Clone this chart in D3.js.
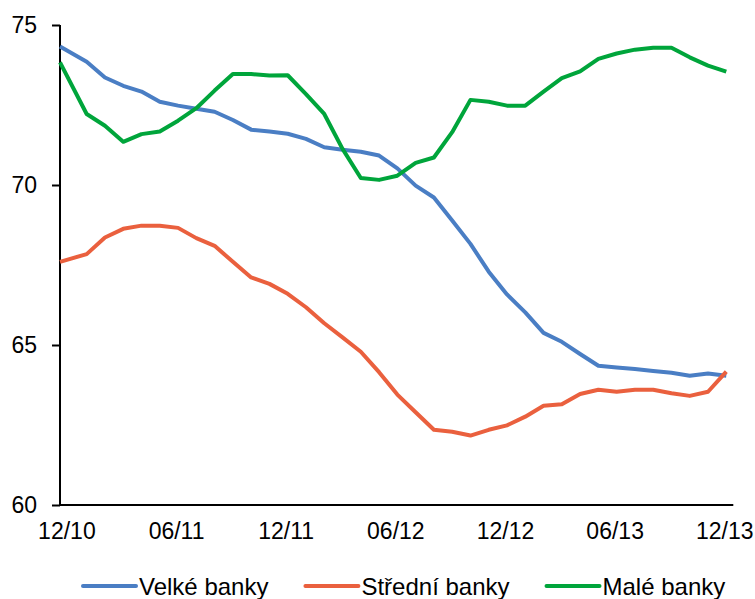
<!DOCTYPE html>
<html>
<head>
<meta charset="utf-8">
<script src="https://cdn.jsdelivr.net/npm/d3@7"></script>
<style>
  html, body { margin: 0; padding: 0; background: #fff; }
  svg { display: block; font-family: "Liberation Sans", Arial, sans-serif; }
</style>
</head>
<body>
<svg id="chart" width="755" height="599"></svg>
<script>
// Month positions of the observations (0 = 12/10, 36 = 12/13);
// the first observation sits on the value axis.
const monthPos = [-0.46].concat(d3.range(1, 37));

const velke = [74.33, 73.85, 73.36, 73.10, 72.92, 72.60, 72.48, 72.38, 72.29, 72.03,
               71.73, 71.67, 71.60, 71.44, 71.18, 71.10, 71.04, 70.92, 70.52, 69.98,
               69.61, 68.89, 68.16, 67.29, 66.58, 66.02, 65.38, 65.10, 64.72, 64.35,
               64.30, 64.25, 64.19, 64.13, 64.04, 64.11, 64.04];

const stredni = [67.60, 67.84, 68.36, 68.63, 68.73, 68.73, 68.66, 68.34, 68.10, 67.60,
                 67.11, 66.91, 66.60, 66.18, 65.68, 65.24, 64.79, 64.15, 63.45, 62.90,
                 62.35, 62.29, 62.17, 62.35, 62.49, 62.76, 63.10, 63.15, 63.47, 63.60,
                 63.54, 63.60, 63.60, 63.49, 63.41, 63.54, 64.17];

const male = [73.83, 72.22, 71.85, 71.35, 71.59, 71.67, 72.01, 72.40, 72.95, 73.47,
              73.47, 73.42, 73.43, 72.84, 72.22, 71.13, 70.22, 70.16, 70.29, 70.69,
              70.86, 71.65, 72.66, 72.60, 72.48, 72.48, 72.92, 73.34, 73.55, 73.94,
              74.11, 74.23, 74.29, 74.29, 73.99, 73.73, 73.54];

const tickMonths = [0, 6, 12, 18, 24, 30, 36];
const tickLabels = ["12/10", "06/11", "12/11", "06/12", "12/12", "06/13", "12/13"];
const yTicks = [60, 65, 70, 75];

const seriesNames = ["Velké banky", "Střední banky", "Malé banky"];
const seriesColors = ["#4a7ec4", "#ea603e", "#00a53b"];
const seriesValues = [velke, stredni, male];

const svg = d3.select("#chart");

const axisX0 = 60;
const x = d3.scaleLinear().domain([0, 36]).range([68.4, 726.3]);
const y = d3.scaleLinear().domain([60, 75]).range([505, 25]);

// value axis
const yAxis = svg.append("g")
  .attr("transform", `translate(${axisX0},0)`)
  .call(d3.axisLeft(y).tickValues(yTicks).tickSize(8).tickSizeOuter(0).tickPadding(15)
    .tickFormat(d3.format("d")));
yAxis.select(".domain").remove();
yAxis.selectAll(".tick line").attr("stroke", "#000").attr("stroke-width", 2);
yAxis.selectAll(".tick text")
  .attr("font-size", 23).attr("fill", "#000")
  .attr("font-family", "Liberation Sans, Arial, sans-serif");
yAxis.append("line")
  .attr("x1", 0).attr("x2", 0).attr("y1", y(75)).attr("y2", y(60))
  .attr("stroke", "#000").attr("stroke-width", 2);

// time axis
const xAxis = svg.append("g")
  .attr("transform", `translate(0,${y(60)})`)
  .call(d3.axisBottom(x).tickValues(tickMonths).tickSize(0)
    .tickFormat((d, i) => tickLabels[i]));
xAxis.select(".domain").remove();
xAxis.selectAll(".tick text")
  .attr("font-size", 23).attr("fill", "#000")
  .attr("font-family", "Liberation Sans, Arial, sans-serif")
  .attr("y", 34).attr("dy", 0).attr("dx", -2);
xAxis.append("line")
  .attr("x1", axisX0 - 1).attr("x2", x(36) + 7).attr("y1", 0).attr("y2", 0)
  .attr("stroke", "#000").attr("stroke-width", 2);

// series lines
const line = d3.line()
  .x((d, i) => x(monthPos[i]))
  .y(d => y(d));

seriesValues.forEach((vals, k) => {
  svg.append("path")
    .datum(vals)
    .attr("fill", "none")
    .attr("stroke", seriesColors[k])
    .attr("stroke-width", 4)
    .attr("stroke-linejoin", "round")
    .attr("d", line);
});

// legend
const legend = svg.append("g").attr("transform", "translate(83,586)");
let cursor = 0;
seriesNames.forEach((name, k) => {
  const item = legend.append("g").attr("transform", `translate(${cursor},0)`);
  item.append("line")
    .attr("x1", 0).attr("x2", 53).attr("y1", 0).attr("y2", 0)
    .attr("stroke", seriesColors[k]).attr("stroke-width", 4)
    .attr("stroke-linecap", "round");
  const t = item.append("text")
    .attr("x", 56).attr("y", 8.5)
    .attr("font-size", 24).attr("fill", "#000")
    .text(name);
  cursor += 56 + t.node().getComputedTextLength() + 37;
});
</script>
</body>
</html>
